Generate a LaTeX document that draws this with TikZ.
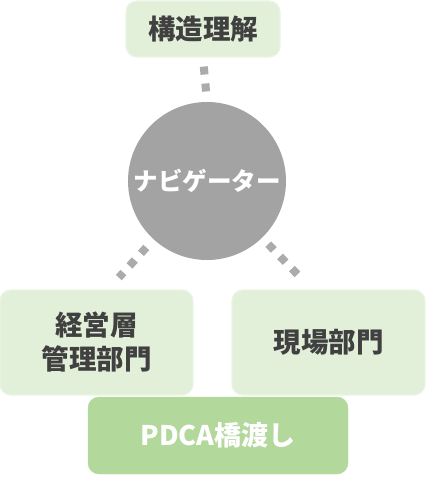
\documentclass[tikz,border=0pt]{standalone}
\usepackage{fontspec}
\setmainfont{Noto Sans CJK JP}
\definecolor{txtgray}{HTML}{404040}
\definecolor{lightgreen}{HTML}{E2F0D9}
\definecolor{lightedge}{HTML}{EAF4E4}
\definecolor{midgreen}{HTML}{B3D89B}
\definecolor{circgray}{HTML}{A3A3A3}
\definecolor{dotgray}{HTML}{ABABAB}
\tikzset{
  lightbox/.style={rounded corners=11pt, fill=lightgreen, draw=lightedge, line width=1.2pt, inner sep=0pt, align=center, text=txtgray, font=\fontsize{27.5pt}{34pt}\selectfont\bfseries},
  darkbox/.style={rounded corners=11pt, fill=midgreen, draw=midgreen, inner sep=0pt, align=center, text=white, font=\fontsize{27pt}{34pt}\selectfont\bfseries},
  navcircle/.style={circle, fill=circgray, inner sep=0pt, minimum size=158pt, text=white, font=\fontsize{24.5pt}{30pt}\selectfont\bfseries},
  dotline/.style={draw=dotgray, line width=8pt, dash pattern=on 8pt off 9pt}
}
\begin{document}
\begin{tikzpicture}[x=1pt,y=-1pt]
\useasboundingbox (0,0) rectangle (425,497);
\node[lightbox, minimum width=154pt, minimum height=56pt] (top) at (203,29) {構造理解};
\node[navcircle] (nav) at (207,181) {ナビゲーター};
\node[lightbox, minimum width=193pt, minimum height=105pt] (left) at (96.5,342.5) {経営層\\管理部門};
\node[lightbox, minimum width=193pt, minimum height=105pt] (right) at (328.5,342.5) {現場部門};
\node[darkbox, minimum width=260pt, minimum height=77pt] (pdca) at (218,435.5) {PDCA橋渡し};
\draw[dotline, shorten <=9pt, shorten >=10pt] (top.south) -- (nav.north);
\draw[dotline, shorten <=90pt, shorten >=16pt] (nav.center) -- ([xshift=11.5pt]left.north);
\draw[dotline, shorten <=88pt, shorten >=20pt] (nav.center) -- ([xshift=-16.5pt]right.north);
\end{tikzpicture}
\end{document}
